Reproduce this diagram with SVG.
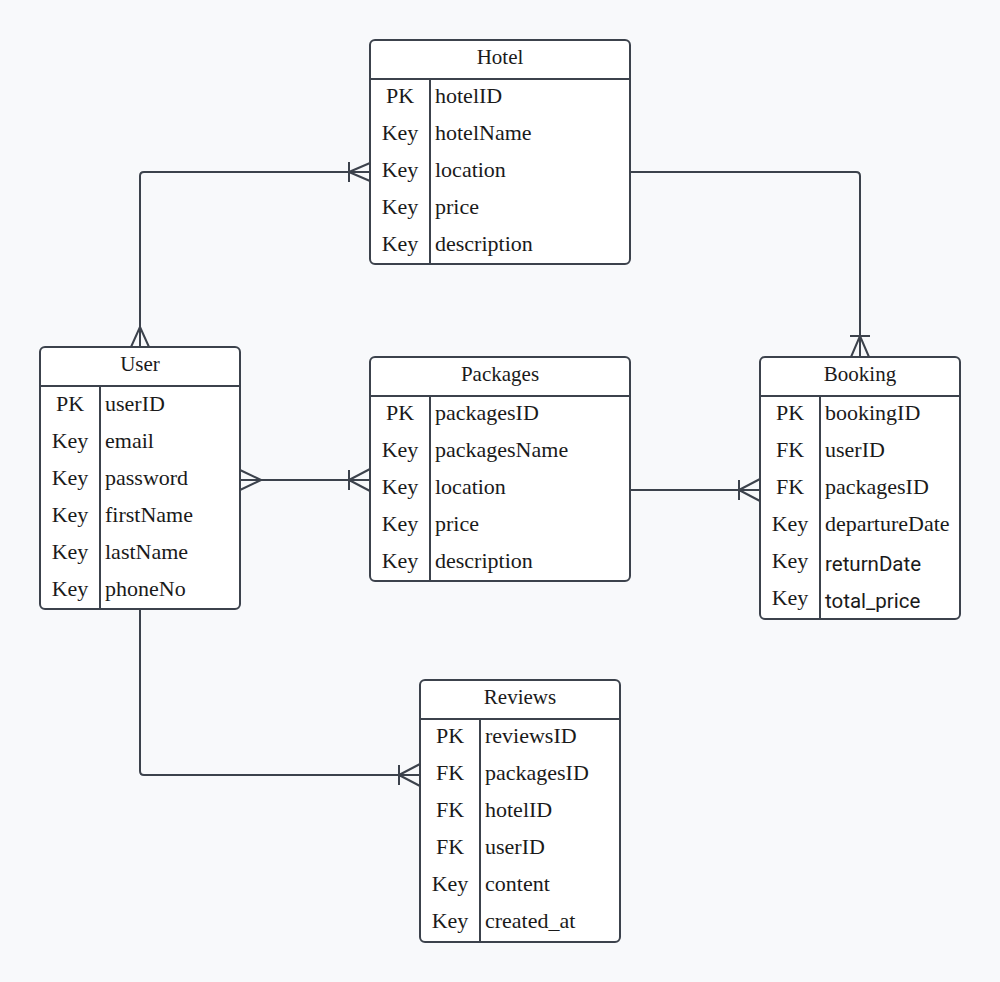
<svg xmlns="http://www.w3.org/2000/svg" width="1000" height="982" viewBox="0 0 1000 982">
  <style>
    .bg { fill: #f8f9fb; }
    .box { fill: #ffffff; stroke: #3c424c; stroke-width: 2; }
    .ln { fill: none; stroke: #3c424c; stroke-width: 2; }
    .title { font-family: "Liberation Serif", serif; font-size: 21px; fill: #1a1a1a; text-anchor: middle; }
    .key { font-family: "Liberation Serif", serif; font-size: 22px; fill: #1a1a1a; text-anchor: middle; }
    .fld { font-family: "Liberation Serif", serif; font-size: 22px; fill: #1a1a1a; }
    .sans { font-family: Roboto, "Liberation Sans", sans-serif; font-size: 20.5px; fill: #1a1a1a; }
    .conn { fill: none; stroke: #3c424c; stroke-width: 2; stroke-linejoin: round; }
  </style>
  <rect class="bg" x="0" y="0" width="1000" height="982"/>

  <!-- relationship lines with crow's-foot ends -->
  <g id="connectors">
    <!-- User to Hotel -->
    <path class="conn" d="M140,347 V176 Q140,172 144,172 H370"/>
    <path class="conn" d="M131,347 L140,327 L149,347"/>
    <path class="conn" d="M349,162 V182 M349,172 L370,163 M349,172 L370,181"/>
    <!-- Hotel to Booking -->
    <path class="conn" d="M630,172 H856 Q860,172 860,176 V357"/>
    <path class="conn" d="M850,336 H870 M860,336 L851,357 M860,336 L869,357"/>
    <!-- User to Packages -->
    <path class="conn" d="M240,480 H370"/>
    <path class="conn" d="M240,470 L261,480 L240,490"/>
    <path class="conn" d="M349,470 V490 M349,480 L370,469 M349,480 L370,491"/>
    <!-- Packages to Booking -->
    <path class="conn" d="M630,490 H760"/>
    <path class="conn" d="M739,480 V500 M739,490 L760,479 M739,490 L760,501"/>
    <!-- User to Reviews -->
    <path class="conn" d="M140,609 V771 Q140,775 144,775 H420"/>
    <path class="conn" d="M399,765 V785 M399,775 L420,764 M399,775 L420,786"/>
  </g>

  <g id="hotel">
    <rect class="box" x="370" y="40" width="260" height="224" rx="5"/>
    <path class="ln" d="M370,79 H630 M430,79 V264"/>
    <text class="title" x="500" y="64">Hotel</text>
    <text class="key" x="400" y="103">PK</text><text class="fld" x="435" y="103">hotelID</text>
    <text class="key" x="400" y="140">Key</text><text class="fld" x="435" y="140">hotelName</text>
    <text class="key" x="400" y="177">Key</text><text class="fld" x="435" y="177">location</text>
    <text class="key" x="400" y="214">Key</text><text class="fld" x="435" y="214">price</text>
    <text class="key" x="400" y="251">Key</text><text class="fld" x="435" y="251">description</text>
  </g>

  <g id="user">
    <rect class="box" x="40" y="347" width="200" height="262" rx="5"/>
    <path class="ln" d="M40,386 H240 M100,386 V609"/>
    <text class="title" x="140" y="371">User</text>
    <text class="key" x="70" y="411">PK</text><text class="fld" x="105" y="411">userID</text>
    <text class="key" x="70" y="448">Key</text><text class="fld" x="105" y="448">email</text>
    <text class="key" x="70" y="485">Key</text><text class="fld" x="105" y="485">password</text>
    <text class="key" x="70" y="522">Key</text><text class="fld" x="105" y="522">firstName</text>
    <text class="key" x="70" y="559">Key</text><text class="fld" x="105" y="559">lastName</text>
    <text class="key" x="70" y="596">Key</text><text class="fld" x="105" y="596">phoneNo</text>
  </g>

  <g id="packages">
    <rect class="box" x="370" y="357" width="260" height="224" rx="5"/>
    <path class="ln" d="M370,396 H630 M430,396 V581"/>
    <text class="title" x="500" y="381">Packages</text>
    <text class="key" x="400" y="420">PK</text><text class="fld" x="435" y="420">packagesID</text>
    <text class="key" x="400" y="457">Key</text><text class="fld" x="435" y="457">packagesName</text>
    <text class="key" x="400" y="494">Key</text><text class="fld" x="435" y="494">location</text>
    <text class="key" x="400" y="531">Key</text><text class="fld" x="435" y="531">price</text>
    <text class="key" x="400" y="568">Key</text><text class="fld" x="435" y="568">description</text>
  </g>

  <g id="booking">
    <rect class="box" x="760" y="357" width="200" height="262" rx="5"/>
    <path class="ln" d="M760,396 H960 M820,396 V619"/>
    <text class="title" x="860" y="381">Booking</text>
    <text class="key" x="790" y="420">PK</text><text class="fld" x="825" y="420">bookingID</text>
    <text class="key" x="790" y="457">FK</text><text class="fld" x="825" y="457">userID</text>
    <text class="key" x="790" y="494">FK</text><text class="fld" x="825" y="494">packagesID</text>
    <text class="key" x="790" y="531">Key</text><text class="fld" x="825" y="531">departureDate</text>
    <text class="key" x="790" y="568">Key</text><text class="sans" x="825" y="571">returnDate</text>
    <text class="key" x="790" y="605">Key</text><text class="sans" x="825" y="608">total_price</text>
  </g>

  <g id="reviews">
    <rect class="box" x="420" y="680" width="200" height="262" rx="5"/>
    <path class="ln" d="M420,719 H620 M480,719 V942"/>
    <text class="title" x="520" y="704">Reviews</text>
    <text class="key" x="450" y="743">PK</text><text class="fld" x="485" y="743">reviewsID</text>
    <text class="key" x="450" y="780">FK</text><text class="fld" x="485" y="780">packagesID</text>
    <text class="key" x="450" y="817">FK</text><text class="fld" x="485" y="817">hotelID</text>
    <text class="key" x="450" y="854">FK</text><text class="fld" x="485" y="854">userID</text>
    <text class="key" x="450" y="891">Key</text><text class="fld" x="485" y="891">content</text>
    <text class="key" x="450" y="928">Key</text><text class="fld" x="485" y="928">created_at</text>
  </g>
</svg>
